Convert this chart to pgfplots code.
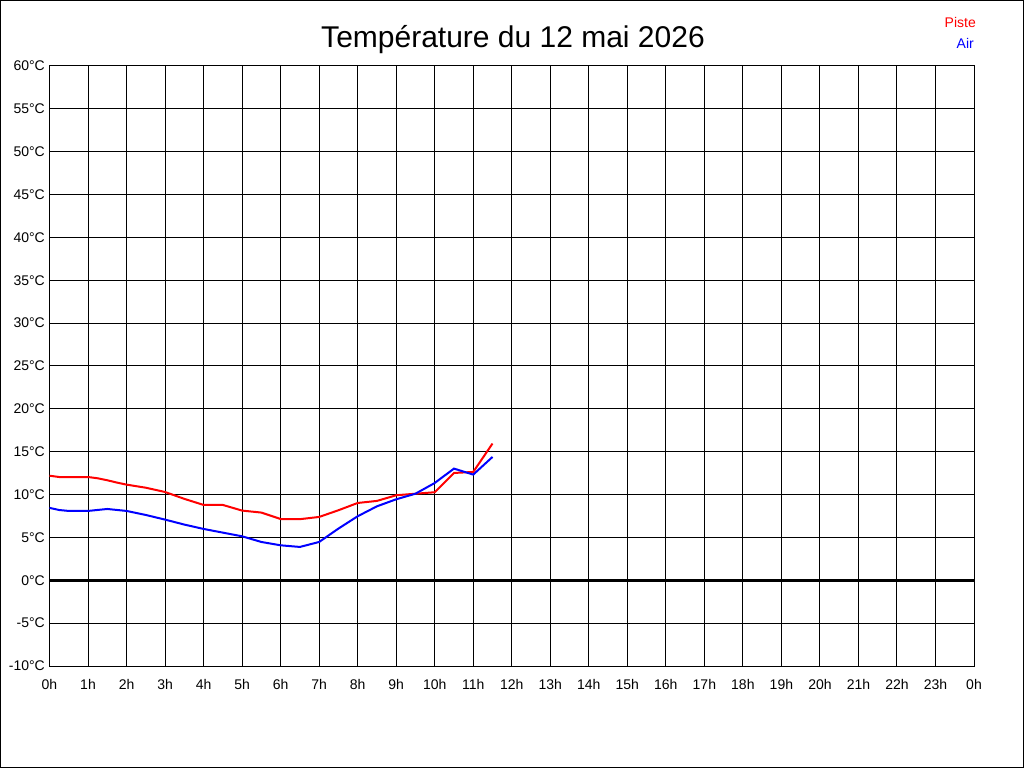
\documentclass[border=0pt]{standalone}
\usepackage{pgfplots}
\pgfplotsset{compat=1.18}
\usepackage{fontspec}
\setmainfont{Liberation Sans}
\pgfplotstableread{
h t
0 12.2
0.25 12.05
0.5 12.05
0.75 12.05
1 12.05
1.25 11.9
1.5 11.67
1.75 11.4
2 11.16
2.5 10.8
3 10.3
3.5 9.5
4 8.79
4.5 8.79
5 8.13
5.5 7.9
6 7.15
6.5 7.13
7 7.39
7.5 8.17
8 9.02
8.5 9.26
9 9.92
9.5 10.1
10 10.27
10.5 12.52
11 12.64
11.5 15.95
}\piste
\pgfplotstableread{
h t
0 8.45
0.25 8.2
0.5 8.09
1 8.09
1.5 8.32
2 8.09
2.5 7.62
3 7.08
3.5 6.5
4 5.99
4.5 5.56
5 5.13
5.5 4.47
6 4.08
6.5 3.89
7 4.47
7.5 6.03
8 7.47
8.5 8.63
9 9.45
9.5 10.1
10 11.35
10.5 13.03
11 12.33
11.5 14.39
}\air
\begin{document}
\begin{tikzpicture}
\path[use as bounding box] (0pt,0pt) rectangle (1024pt,768pt);
\fill[white] (0pt,0pt) rectangle (1024pt,768pt);
\draw[black, line width=1pt] (0.5pt,0.5pt) rectangle (1023.5pt,767.5pt);
\begin{axis}[
  at={(49.5pt,102pt)}, anchor=south west,
  scale only axis, width=924.5pt, height=600pt,
  xmin=0, xmax=24, ymin=-10, ymax=60,
  xtick={0,...,24},
  xticklabels={0h,1h,2h,3h,4h,5h,6h,7h,8h,9h,10h,11h,12h,13h,14h,15h,16h,17h,18h,19h,20h,21h,22h,23h,0h},
  ytick={-10,-5,...,60},
  yticklabels={-10°C,-5°C,0°C,5°C,10°C,15°C,20°C,25°C,30°C,35°C,40°C,45°C,50°C,55°C,60°C},
  major tick length=0pt,
  grid=major,
  major grid style={black, line width=1pt},
  axis line style={black, line width=1pt},
  tick label style={font=\fontsize{14}{16}\selectfont, text=black},
  yticklabel style={anchor=east, inner sep=0pt, xshift=-4.5pt},
  xticklabel style={anchor=north, inner sep=0pt, yshift=-13pt},
  clip=false,
]
\addplot[black, line width=3pt, forget plot] coordinates {(0,0) (24,0)};
\addplot[red, line width=2pt] table[x=h, y=t] {\piste};
\addplot[blue, line width=2pt] table[x=h, y=t] {\air};
\end{axis}
\node[anchor=base, inner sep=0pt, font=\fontsize{30}{34}\selectfont] at (513pt,720.5pt) {Température du 12 mai 2026};
\node[anchor=base east, inner sep=0pt, text=red, font=\fontsize{14}{16}\selectfont] at (976pt,740.7pt) {Piste};
\node[anchor=base east, inner sep=0pt, text=blue, font=\fontsize{14}{16}\selectfont] at (974pt,719pt) {Air};
\end{tikzpicture}
\end{document}
